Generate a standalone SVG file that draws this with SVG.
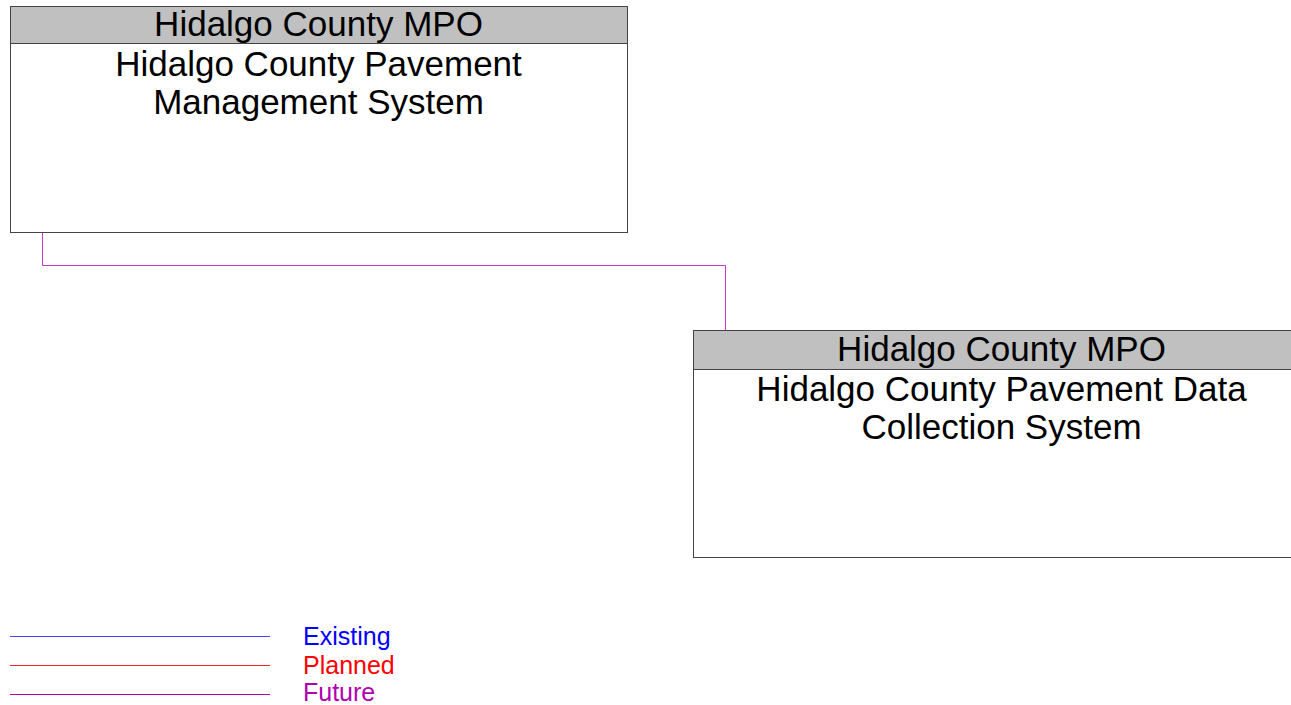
<svg xmlns="http://www.w3.org/2000/svg" width="1291" height="705" viewBox="0 0 1291 705">
<style>
.box{fill:#fff;stroke:#444;stroke-width:1}
.hdr{fill:#c0c0c0;stroke:#444;stroke-width:1}
.t{font-family:"Liberation Sans",Arial,sans-serif;font-size:35px;fill:#000;text-anchor:middle}
.lg{font-family:"Liberation Sans",Arial,sans-serif;font-size:25px}
.fut{stroke:#cc33cc;stroke-width:1;fill:none}
</style>
<rect width="1291" height="705" fill="#fff"/>
<g id="connectors">
<polyline class="fut" points="42.5,232 42.5,265.5 725.5,265.5 725.5,330"/>
</g>
<g id="node1">
<rect class="box" x="10.5" y="6.5" width="617" height="226"/>
<rect class="hdr" x="10.5" y="6.5" width="617" height="37"/>
<text class="t" x="318.5" y="36">Hidalgo County MPO</text>
<text class="t" x="318.5" y="76">Hidalgo County Pavement</text>
<text class="t" x="318.5" y="114">Management System</text>
</g>
<g id="node2">
<rect class="box" x="693.5" y="330.5" width="617" height="227"/>
<rect class="hdr" x="693.5" y="330.5" width="617" height="39"/>
<text class="t" x="1001.5" y="361">Hidalgo County MPO</text>
<text class="t" x="1001.5" y="401">Hidalgo County Pavement Data</text>
<text class="t" x="1001.5" y="439">Collection System</text>
</g>
<g id="legend">
<rect x="10" y="636" width="260" height="1" fill="#4444ff"/>
<rect x="10" y="665" width="260" height="1" fill="#ff2222"/>
<rect x="10" y="694" width="260" height="1" fill="#b000b0"/>
<text class="lg" x="303" y="645" fill="#0000ff">Existing</text>
<text class="lg" x="303" y="674" fill="#ff0000">Planned</text>
<text class="lg" x="303" y="701" fill="#b000b0">Future</text>
</g>
</svg>
